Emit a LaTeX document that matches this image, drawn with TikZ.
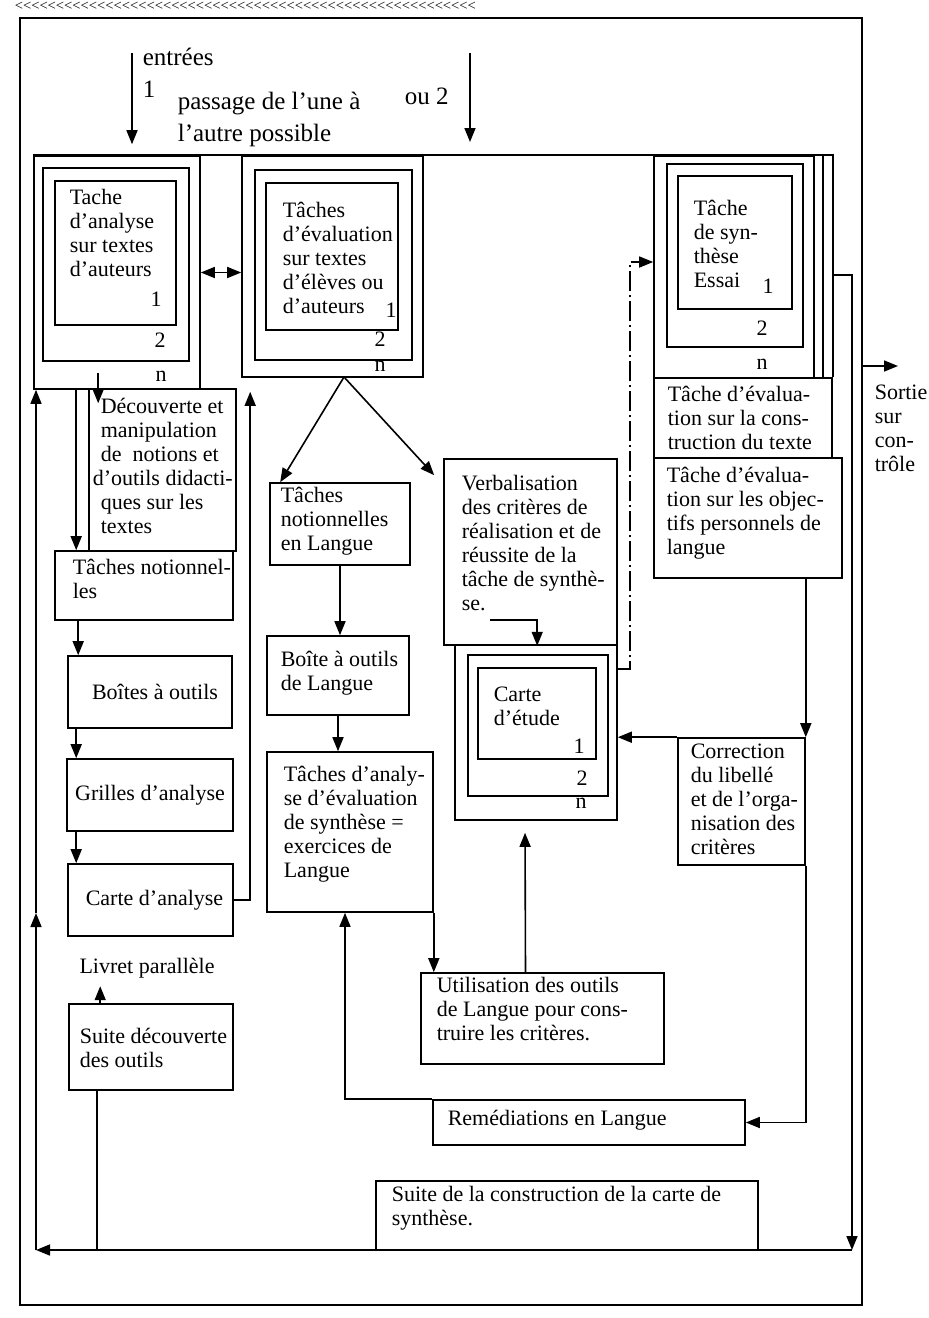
\documentclass[tikz,border=0pt]{standalone}
\usepackage{fontspec}
\setmainfont{Liberation Serif}
\usetikzlibrary{positioning,fit,calc,arrows.meta}

\tikzset{
    >={Triangle[length=7pt,width=5.5pt]},
    box/.style={draw, rectangle, inner sep=0pt, line width=0.8pt},
    txt/.style={inner sep=0pt, align=left, anchor=base west, font=\fontsize{11}{12}\selectfont},
    lbl/.style={inner sep=0pt, align=left, anchor=west, font=\fontsize{12.5}{16}\selectfont},
    num/.style={inner sep=0pt, font=\fontsize{11}{12}\selectfont},
    arrow/.style={->, line width=0.8pt},
    dashdot/.style={dash pattern=on 10pt off 2pt on 1pt off 2pt}
}
\newcommand{\chv}{<\kern0pt}
\newcommand{\chvrow}{\chv\chv\chv\chv\chv\chv\chv\chv}

\begin{document}
\begin{tikzpicture}[x=0.5pt, y=-0.5pt, line width=0.8pt]
\useasboundingbox (0,0) rectangle (928,1318);
\begin{scope}[shift={(-8,0)}]
    % frame and top row
    \node[box, fit={(28,18) (870,1305)}] (frame) {};
    \node[inner sep=0pt, anchor=west, font=\fontsize{7.3}{8}\selectfont] (chevrons) at (22,6)
        {\chvrow\chvrow\chvrow\chvrow\chvrow\chvrow\chvrow};

    % entries (multi-line texts sit on their last baseline)
    \node[lbl] (entrees) at (150,57) {entrées};
    \node[lbl] (un) at (150,89) {1};
    \node[lbl, anchor=base west] (passage) at (185,141) {passage de l'une à\\l'autre possible};
    \node[lbl] (ou) at (412,96) {ou 2};
    \coordinate (in1) at (140,53);
    \coordinate (in2) at (478,53);
    \coordinate (in2b) at (478,142);

    % first stack
    \node[box, fit={(42,156) (208,389)}] (s1n) {};
    \node[box, fit={(51,168) (197,361)}] (s12) {};
    \node[box, fit={(63,181) (184,325)}] (s11) {};
    \node[txt] (s1t) at (77,276) {Tache\\d'analyse\\sur textes\\d'auteurs};
    \node[num] (s1a) at (164,299) {1};
    \node[num] (s1b) at (168,340) {2};
    \node[num] (s1c) at (169,376) {n};

    % second stack
    \node[box, fit={(250,156) (431,377)}] (s2n) {};
    \node[box, fit={(263,170) (420,360)}] (s22) {};
    \node[box, fit={(274,183) (406,330)}] (s21) {};
    \node[txt] (s2t) at (290,313) {Tâches\\d'évaluation\\sur textes\\d'élèves ou\\d'auteurs};
    \node[num] (s2a) at (399,310) {1};
    \node[num] (s2b) at (388,339) {2};
    \node[num] (s2c) at (388,366) {n};

    % third stack
    \node[box, fit={(662,156) (822,378)}] (s3n) {};
    \node[box, fit={(675,164) (811,347)}] (s32) {};
    \node[box, fit={(686,176) (800,309)}] (s31) {};
    \node[txt] (s3t) at (701,287) {Tâche\\de syn-\\thèse\\Essai};
    \node[num] (s3a) at (776,286) {1};
    \node[num] (s3b) at (770,328) {2};
    \node[num] (s3c) at (770,364) {n};
    \node[box, fit={(662,378) (840,458)}] (con) {};
    \node[txt] (cont) at (675,449) {Tâche d'évalua-\\tion sur la cons-\\truction du texte};
    \node[box, fit={(662,458) (850,578)}] (obj) {};
    \node[txt] (objt) at (674,554) {Tâche d'évalua-\\tion sur les objec-\\tifs personnels de\\langue};
    \coordinate (s3e) at (831,156);

    % left column
    \node[box, fit={(97,389) (244,551)}] (dec) {};
    \node[txt] (dect) at (108,533) {Découverte et\\manipulation\\de \ notions et\\\hspace*{-4pt}d'outils didacti-\\ques sur les\\textes};
    \node[box, fit={(63,551) (241,620)}] (tno) {};
    \node[txt] (tnot) at (80,598) {Tâches notionnel-\\les};
    \node[box, fit={(76,656) (240,728)}] (bao) {};
    \node[txt, anchor=center] (baot) at ($(bao.center)+(5,0)$) {Boîtes à outils};
    \node[box, fit={(75,759) (241,831)}] (gri) {};
    \node[txt, anchor=center] (grit) at (gri.center) {Grilles d'analyse};
    \node[box, fit={(76,864) (241,936)}] (car) {};
    \node[txt, anchor=center] (cart) at ($(car.center)+(4,0)$) {Carte d'analyse};
    \node[txt, anchor=center] (livret) at (155,968) {Livret parallèle};
    \node[box, fit={(77,1004) (241,1090)}] (sd) {};
    \node[txt] (sdt) at (87,1067) {Suite découverte\\des outils};

    % middle column
    \coordinate (apex) at (352,377);
    \node[box, fit={(278,483) (418,565)}] (tnl) {};
    \node[txt] (tnlt) at (288,550) {Tâches\\notionnelles\\en Langue};
    \node[box, fit={(275,636) (417,715)}] (bol) {};
    \node[txt] (bolt) at (288,690) {Boîte à outils\\de Langue};
    \node[box, fit={(275,752) (441,912)}] (tae) {};
    \node[txt] (taet) at (291,877) {Tâches d'analy-\\se d'évaluation\\de synthèse =\\exercices de\\Langue};
    \node[box, fit={(452,459) (625,645)}] (ver) {};
    \node[txt] (vert) at (469,610) {Verbalisation\\des critères de\\réalisation et de\\réussite de la\\tâche de synthè-\\se.};
    \coordinate (seend) at (498,620);
    \node[box, fit={(463,645) (625,820)}] (cen) {};
    \node[box, fit={(476,655) (616,796)}] (ce2) {};
    \node[box, fit={(486,668) (604,759)}] (ce1) {};
    \node[txt] (cet) at (501,725) {Carte\\d'étude};
    \node[num] (cea) at (587,746) {1};
    \node[num] (ceb) at (590,778) {2};
    \node[num] (cec) at (589,803) {n};
    \coordinate (dd) at (638,262);
    \node[box, fit={(429,973) (672,1064)}] (uti) {};
    \node[txt] (utit) at (444,1040) {Utilisation des outils\\de Langue pour cons-\\truire les critères.};
    \node[box, fit={(441,1100) (753,1145)}] (rem) {};
    \node[txt, anchor=west] (remt) at (455,1120) {Remédiations en Langue};
    \node[box, fit={(686,738) (813,865)}] (cor) {};
    \node[txt] (cort) at (698,854) {Correction\\du libellé\\et de l'orga-\\nisation des\\critères};
    \node[box, fit={(384,1181) (766,1250)}] (suc) {};
    \node[txt] (suct) at (399,1225) {Suite de la construction de la carte de\\synthèse.};

    % exit
    \coordinate (so) at (870,366);
    \coordinate (sob) at (906,366);
    \node[txt] (sortie) at (882,471) {Sortie\\sur\\con-\\trôle};

    % loop round the page
    \coordinate (lpa) at (840,275);
    \coordinate (lpb) at (860,1250);
    \coordinate (lpc) at (44,1250);
    \coordinate (lpd) at (44,913);
    \coordinate (sdl) at ($(sd.south west)+(29,0)$);

    % connectors
    \draw[arrow, shorten >=5.5pt] (in1) -- (in1 |- s1n.north);
    \draw[arrow] (in2) -- (in2b);
    \draw (s1n.north west) -- (con.north east |- s1n.north) -- (con.north east);
    \draw (s3e) -- (s3e |- s3n.south);
    \draw[<->] (s1n.east) -- (s1n.east -| s2n.west);
    \draw[arrow] ($(s1n.south west)+(65,-17)$) -- ($(dec.north west)+(10,15)$);
    \draw[arrow] ($(s1n.south west)+(43,0)$) -- ($(tno.north west)+(22,0)$);
    \draw[arrow] ($(tno.south west)+(24,0)$) -- ($(bao.north west)+(11,0)$);
    \draw[arrow] ($(bao.south west)+(9,0)$) -- ($(gri.north west)+(10,0)$);
    \draw[arrow] ($(gri.south west)+(10,0)$) -- ($(car.north west)+(9,0)$);
    \draw[arrow, shorten >=7pt] (car.east) -| ($(s2n.south west)+(9,0)$);
    \draw[arrow] ($(sd.north west)+(32,0)$) -- ($(sd.north west)+(32,-17)$);
    \draw (sdl) -- (sdl |- lpc);
    \draw[arrow] (apex) -- ($(tnl.north west)+(11,0)$);
    \draw[arrow] (apex) -- ($(ver.north west)+(-9,17)$);
    \draw[arrow] (tnl.south) -- (tnl.south |- bol.north);
    \draw[arrow] (bol.south) -- (bol.south |- tae.north);
    \draw[arrow] (seend) -| ($(ver.south west)+(94,0)$);
    \draw[arrow, dashdot] ($(cen.north east)+(0,25)$) -| (dd) -- (dd -| s3n.west);
    \draw[arrow] (tae.south east) -- (tae.south east |- uti.north);
    \draw[arrow, shorten >=6pt] ($(uti.north)+(-17,0)$) -- ($(cen.south)+(-11,0)$);
    \draw[arrow] (rem.north west) -| ($(tae.south)+(-5,0)$);
    \draw[arrow] (cor.north east |- obj.south) -- (cor.north east);
    \draw[arrow] (cor.north west) -- (cor.north west -| cen.east);
    \draw[arrow] (cor.south east) |- (rem.east);
    \draw[arrow] (so) -- (sob);
    \draw[arrow] (lpa) -| (lpb);
    \draw[arrow] (lpb) -- (lpc);
    \draw[arrow] (lpc) -- (lpd);
    \draw[arrow] (lpd) -- (lpd |- s1n.south);
\end{scope}
\end{tikzpicture}
\end{document}
